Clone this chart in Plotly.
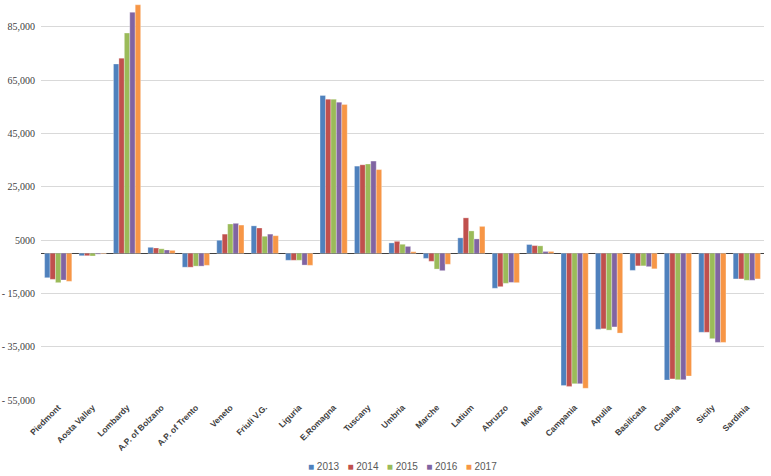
import plotly.graph_objects as go

regions = ["Piedmont", "Aosta Valley", "Lombardy", "A.P. of Bolzano", "A.P. of Trento",
           "Veneto", "Friuli V.G.", "Liguria", "E.Romagna", "Tuscany", "Umbria", "Marche",
           "Latium", "Abruzzo", "Molise", "Campania", "Apulia", "Basilicata", "Calabria",
           "Sicily", "Sardinia"]

y2013 = [-9150, -900, 71000, 2250, -5200, 4900, 10300, -2600, 59200, 32700, 3900, -1900,
         5800, -13100, 3300, -49600, -28500, -6400, -47500, -29600, -9600]
y2014 = [-9750, -900, 73200, 2000, -5200, 7200, 9500, -2600, 57800, 33200, 4500, -3000,
         13300, -12500, 2900, -49900, -28300, -4700, -47100, -29600, -9600]
y2015 = [-11000, -1000, 82600, 1700, -4800, 11000, 6400, -2600, 57800, 33500, 3400, -5900,
         8400, -11250, 2800, -48900, -28800, -4700, -47400, -32000, -10100]
y2016 = [-10000, -300, 90400, 1250, -4800, 11250, 7200, -4400, 56700, 34600, 2600, -6500,
         5400, -10900, 700, -48900, -27600, -5000, -47400, -33400, -10100]
y2017 = [-10500, -200, 93200, 1100, -4500, 10600, 6600, -4500, 55800, 31400, 600, -4100,
         10100, -11000, 700, -50600, -29900, -5800, -46000, -33400, -9600]

years = ["2013", "2014", "2015", "2016", "2017"]
series = [y2013, y2014, y2015, y2016, y2017]
colors = ["#4F81BD", "#C0504D", "#9BBB59", "#8064A2", "#F79646"]

tick_vals = [-55000, -35000, -15000, 5000, 25000, 45000, 65000, 85000]
tick_text = ["-\u00a055,000", "-\u00a035,000", "-\u00a015,000", "5000", "25,000", "45,000", "65,000", "85,000"]

fig = go.Figure()
for name, vals, col in zip(years, series, colors):
    fig.add_trace(go.Bar(x=regions, y=vals, name=name, marker_color=col, showlegend=False,
                         marker_line=dict(color="rgba(255,255,255,0.6)", width=0.5)))

# legend drawn as a single text line with coloured squares
legend_text = "&nbsp;&nbsp;&nbsp;".join(
    f"<span style='color:{c}'>■</span> {y}" for y, c in zip(years, colors))
fig.add_annotation(text=legend_text, xref="paper", yref="paper", x=0.5, y=-0.167,
                   xanchor="center", yanchor="middle", showarrow=False,
                   font=dict(family="Liberation Sans", size=10, color="#595959"))

fig.update_layout(
    width=771, height=476,
    barmode="group", bargap=0.21, bargroupgap=0,
    plot_bgcolor="white", paper_bgcolor="white",
    margin=dict(l=41, r=7, t=0, b=76, autoexpand=False),
    xaxis=dict(tickangle=-45, automargin=False, showgrid=False, ticks="",
               tickfont=dict(family="Liberation Sans", size=8.5, color="#404040", weight="bold"),
               showline=False),
    yaxis=dict(range=[-55000, 95000], tickvals=tick_vals, ticktext=tick_text,
               showgrid=True, gridcolor="#D9D9D9", gridwidth=1,
               zeroline=True, zerolinecolor="#404040", zerolinewidth=1,
               tickfont=dict(family="'Liberation Serif', 'DejaVu Serif', serif", size=10, color="#404040"),
               automargin=False, ticks="", ticklabelstandoff=5),
)

fig.write_html("out.html", config={"displayModeBar": False},
               post_script="document.body.style.margin='0';")
